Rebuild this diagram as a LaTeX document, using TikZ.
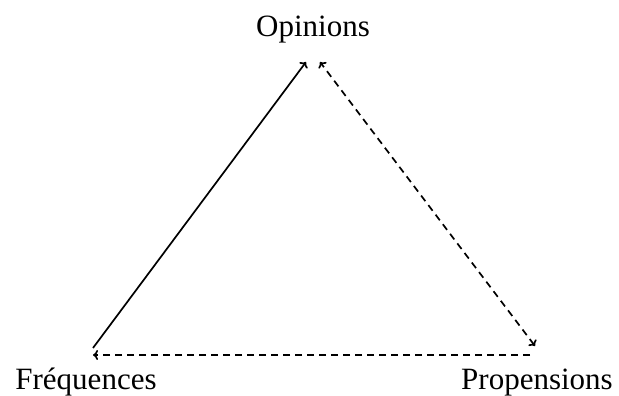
\documentclass[tikz,border=0pt]{standalone}
\usepackage{fontspec}
\setmainfont{Liberation Serif}
\usetikzlibrary{arrows.meta}
\begin{document}
\begin{tikzpicture}[x=1pt,y=-1pt,
  lbl/.style={inner sep=0pt,font=\fontsize{31}{37}\selectfont,anchor=base},
  conn/.style={line width=1.7pt,-{To[length=5pt,width=10pt]}},
  dsh/.style={dash pattern=on 7pt off 5pt}]
\useasboundingbox (0,0) rectangle (619,396);
\node[lbl] (op) at (313,37) {Opinions};
\node[lbl] (fr) at (86,389) {Fréquences};
\node[lbl] (pr) at (537,389) {Propensions};
\coordinate (opL) at (306,62);
\coordinate (opR) at (320,62);
\coordinate (frT) at (93,348);
\coordinate (frR) at (93,355);
\coordinate (prT) at (535,346);
\coordinate (prL) at (530,355);
\draw[conn] (frT) -- (opL);
\draw[conn,dsh,{To[length=5pt,width=10pt]}-{To[length=5pt,width=10pt]}] (prT) -- (opR);
\draw[conn,dsh] (prL) -- (frR);
\end{tikzpicture}
\end{document}
